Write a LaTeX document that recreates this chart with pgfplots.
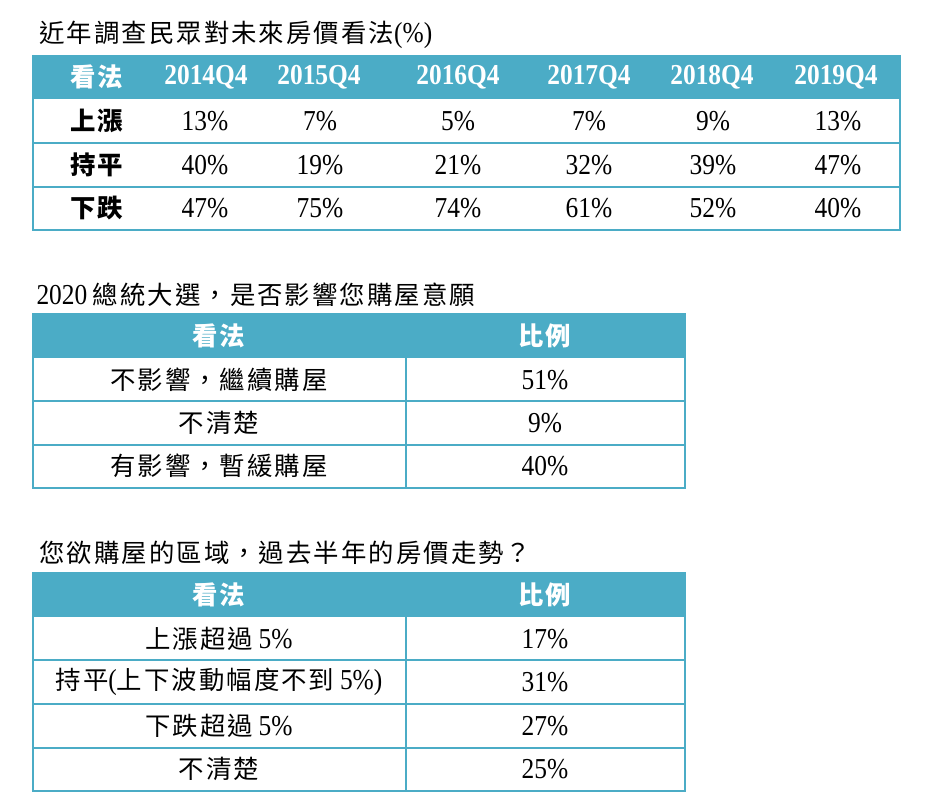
\documentclass[border=0pt]{standalone}
\usepackage{fontspec}
\setmainfont{Liberation Serif}[FakeStretch=0.88]
\newfontfamily\cjk[LetterSpace=8]{Noto Sans CJK TC}
\usepackage{pgfplots}
\pgfplotsset{compat=1.18}
\definecolor{hdr}{HTML}{4BACC6}
\newcommand{\C}[1]{{\cjk #1}}
\newcommand{\R}[1]{{\rmfamily\tx #1}}
\newcommand{\tx}{\fontsize{29}{30}\selectfont}
\newcommand{\cx}{\fontsize{25.5}{27}\selectfont}
\pgfplotsset{valnode/.style={draw=none, mark=none, point meta=explicit,
  /pgf/number format/assume math mode=true,
  nodes near coords={\pgfmathprintnumber{\pgfplotspointmeta}\%},
  every node near coord/.append style={anchor=center, font=\rmfamily\tx, text=black, inner sep=0pt}}}
\begin{document}
\begin{tikzpicture}
\begin{axis}[width=949bp, height=808bp, scale only axis, xmin=0, xmax=949, ymin=0, ymax=808,
  y dir=reverse, hide axis, clip=false]
\path (0,0) rectangle (949,808);
% ---------- table 1 ----------
\node[anchor=west, font=\cx] at (36,35) {\C{近年調查民眾對未來房價看法}\R{(\%)}};
\fill[hdr] (33,55) rectangle (900,99);
\draw[hdr, line width=2bp] (33,55) -- (33,230) -- (900,230) -- (900,55);
\draw[hdr, line width=2bp] (33,143) -- (900,143) (33,187) -- (900,187);
\node[font=\cx\bfseries, text=white] at (97,77) {\C{看法}};
\node[font=\tx\bfseries, text=white] at (206,77) {2014Q4};
\node[font=\tx\bfseries, text=white] at (319,77) {2015Q4};
\node[font=\tx\bfseries, text=white] at (458,77) {2016Q4};
\node[font=\tx\bfseries, text=white] at (589,77) {2017Q4};
\node[font=\tx\bfseries, text=white] at (712,77) {2018Q4};
\node[font=\tx\bfseries, text=white] at (836,77) {2019Q4};
\node[font=\cx\bfseries] at (97,121) {\C{上漲}};
\node[font=\cx\bfseries] at (97,165) {\C{持平}};
\node[font=\cx\bfseries] at (97,208) {\C{下跌}};
\addplot[valnode] coordinates {(205,121)[13] (320,121)[7] (458,121)[5] (589,121)[7] (713,121)[9] (838,121)[13]};
\addplot[valnode] coordinates {(205,165)[40] (320,165)[19] (458,165)[21] (589,165)[32] (713,165)[39] (838,165)[47]};
\addplot[valnode] coordinates {(205,208)[47] (320,208)[75] (458,208)[74] (589,208)[61] (713,208)[52] (838,208)[40]};
% ---------- table 2 ----------
\node[anchor=west, font=\cx] at (33,295) {\R{2020} \C{總統大選，是否影響您購屋意願}};
\fill[hdr] (33,313) rectangle (685,358);
\draw[hdr, line width=2bp] (33,313) -- (33,488) -- (685,488) -- (685,313);
\draw[hdr, line width=2bp] (33,401) -- (685,401) (33,445) -- (685,445) (406,358) -- (406,488);
\node[font=\cx\bfseries, text=white] at (219,336) {\C{看法}};
\node[font=\cx\bfseries, text=white] at (545,336) {\C{比例}};
\node[font=\cx] at (219,380) {\C{不影響，繼續購屋}};
\node[font=\cx] at (219,423) {\C{不清楚}};
\node[font=\cx] at (219,466) {\C{有影響，暫緩購屋}};
\addplot[valnode] coordinates {(545,380)[51] (545,423)[9] (545,466)[40]};
% ---------- table 3 ----------
\node[anchor=west, font=\cx] at (36,553) {\C{您欲購屋的區域，過去半年的房價走勢？}};
\fill[hdr] (33,572) rectangle (685,617);
\draw[hdr, line width=2bp] (33,572) -- (33,791) -- (685,791) -- (685,572);
\draw[hdr, line width=2bp] (33,660) -- (685,660) (33,704) -- (685,704) (33,748) -- (685,748) (406,617) -- (406,791);
\node[font=\cx\bfseries, text=white] at (219,595) {\C{看法}};
\node[font=\cx\bfseries, text=white] at (545,595) {\C{比例}};
\node[font=\cx] at (219,639) {\C{上漲超過} \R{5\%}};
\node[font=\cx] at (219,682) {\C{持平}\R{(}\C{上下波動幅度不到} \R{5\%)}};
\node[font=\cx] at (219,726) {\C{下跌超過} \R{5\%}};
\node[font=\cx] at (219,769) {\C{不清楚}};
\addplot[valnode] coordinates {(545,639)[17] (545,682)[31] (545,726)[27] (545,769)[25]};
\end{axis}
\end{tikzpicture}
\end{document}
